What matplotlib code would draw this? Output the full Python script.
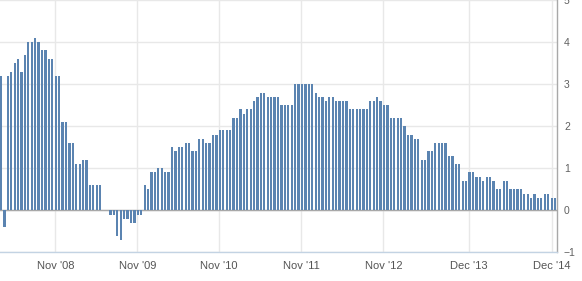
import matplotlib
matplotlib.use("Agg")
import matplotlib.pyplot as plt
import numpy as np

values = [
    3.2, -0.4, 3.2, 3.3, 3.5, 3.6, 3.3, 3.7, 4.0, 4.0, 4.1, 4.0, 3.8, 3.8, 3.6, 3.6,
    3.2, 3.2, 2.1, 2.1, 1.6, 1.6, 1.1, 1.1,
    1.2, 1.2, 0.6, 0.6, 0.6, 0.6, 0.0, 0.0, -0.1, -0.1, -0.6, -0.7, -0.2, -0.2,
    -0.3, -0.3, -0.1, -0.1, 0.6, 0.5, 0.9, 0.9, 1.0,
    1.0, 0.9, 0.9, 1.5, 1.4, 1.5, 1.5, 1.6, 1.6, 1.4, 1.4, 1.7, 1.7, 1.6, 1.6,
    1.8, 1.8, 1.9, 1.9, 1.9, 1.9, 2.2,
    2.2, 2.4, 2.3, 2.4, 2.4, 2.6, 2.7, 2.8, 2.8, 2.7, 2.7, 2.7, 2.7, 2.5, 2.5,
    2.5, 2.5, 3.0, 3.0, 3.0, 3.0, 3.0, 3.0,
    2.8, 2.7, 2.7, 2.6, 2.7, 2.7, 2.6, 2.6, 2.6, 2.6, 2.4, 2.4, 2.4, 2.4, 2.4,
    2.4, 2.6, 2.6, 2.7, 2.6, 2.5, 2.5, 2.2,
    2.2, 2.2, 2.2, 2.0, 1.8, 1.8, 1.7, 1.7, 1.2, 1.2, 1.4, 1.4, 1.6, 1.6, 1.6,
    1.6, 1.3, 1.3, 1.1, 1.1, 0.7, 0.7, 0.9,
    0.9, 0.8, 0.8, 0.7, 0.8, 0.8, 0.7, 0.5, 0.5, 0.7, 0.7, 0.5, 0.5, 0.5, 0.5,
    0.4, 0.4, 0.3, 0.4, 0.3, 0.3, 0.4, 0.4, 0.3, 0.3,
]
tick_labels = ["Nov '08", "Nov '09", "Nov '10", "Nov '11", "Nov '12", "Dec '13", "Dec '14"]
tick_pos = [15.9, 39.9, 63.8, 87.7, 111.8, 136.9, 161.0]
y_ticks = [-1, 0, 1, 2, 3, 4, 5]

plt.rcParams['font.family'] = ['Liberation Sans', 'DejaVu Sans']

W, H = 582, 281
fig = plt.figure(figsize=(W / 100, H / 100), dpi=100)
ax = fig.add_axes([0, 1 - 252.4 / H, 557 / W, 252.4 / H])

x = np.arange(len(values))
ax.bar(x, values, width=0.66, color='#5b84b1', zorder=3, linewidth=0)
ax.axhline(0, color='#a8a8a8', lw=1, zorder=2)

ax.set_xlim(-0.29, 162.57)
ax.set_ylim(-1, 4.99)
ax.set_xticks(tick_pos)
ax.set_xticklabels(tick_labels)
ax.set_yticks(y_ticks)
ax.yaxis.tick_right()
ax.tick_params(axis='x', length=0, pad=6, labelsize=8, labelcolor='#555555')
ax.tick_params(axis='y', length=0, pad=5, labelsize=7.5, labelcolor='#606060')
ax.grid(True, color='#e8e8e8', lw=1, zorder=0)

for s in ['left', 'top']:
    ax.spines[s].set_visible(False)
ax.spines['right'].set_color('#a8a8a8')
ax.spines['right'].set_linewidth(1)
ax.spines['bottom'].set_color('#c3d3e3')
ax.spines['bottom'].set_linewidth(1)

fig.savefig('out.png', dpi=100)
